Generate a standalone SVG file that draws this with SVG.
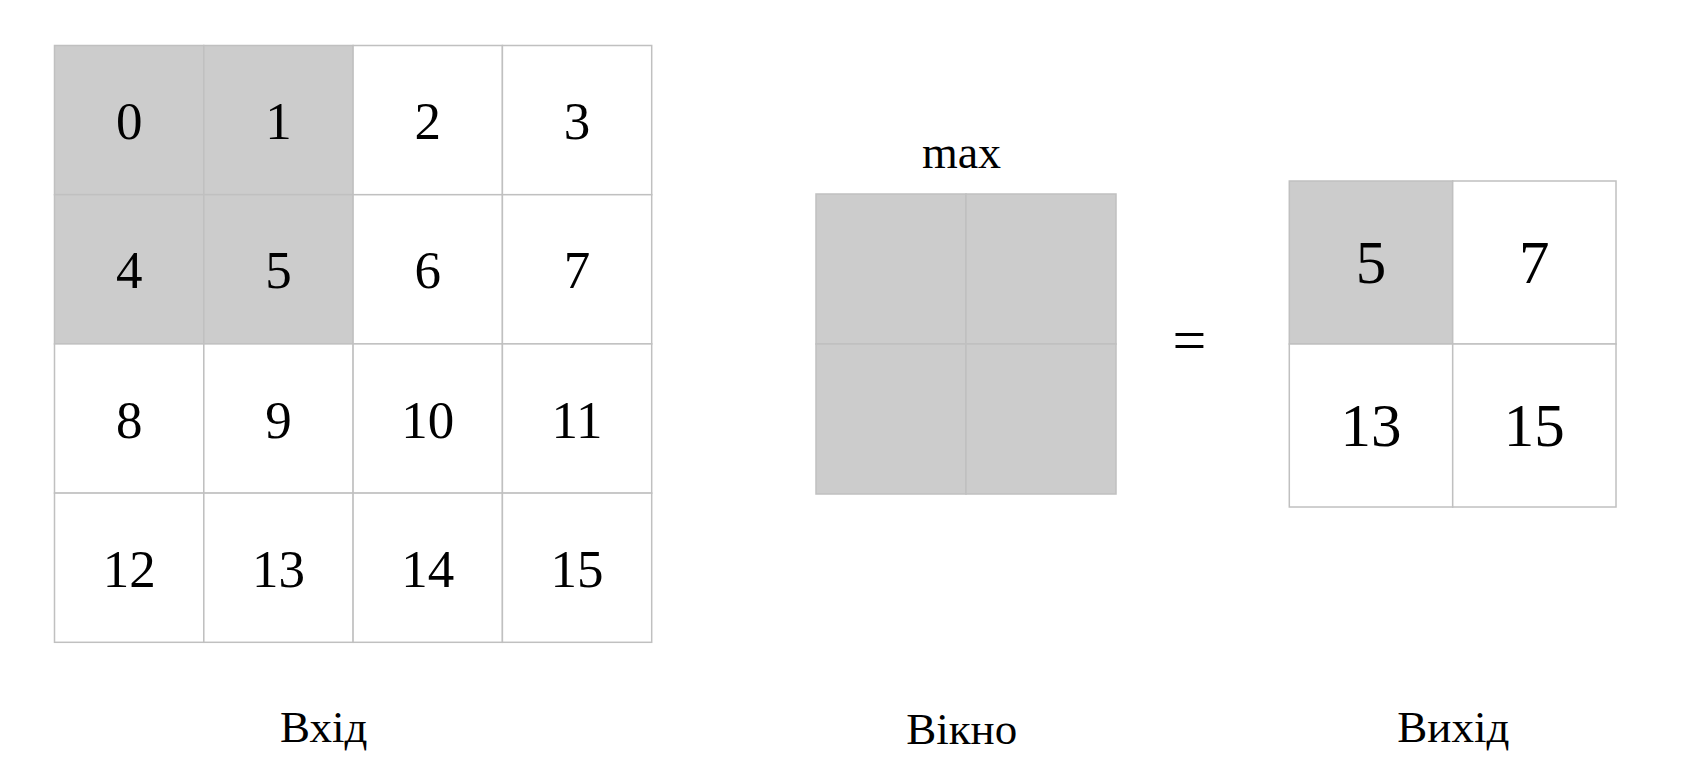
<svg xmlns="http://www.w3.org/2000/svg" width="1684" height="781" viewBox="0 0 1684 781">
<style>
  .bg { fill: #ffffff; }
  .cell { fill: #ffffff; stroke: #c0c0c0; stroke-width: 1.5; }
  .hl { fill: #cccccc; stroke: #c0c0c0; stroke-width: 1.5; }
  .num { font-family: "Liberation Serif", "DejaVu Serif", serif; font-size: 53px; fill: #000; text-anchor: middle; }
  .numL { font-family: "Liberation Serif", "DejaVu Serif", serif; font-size: 61px; fill: #000; text-anchor: middle; }
  .lbl { font-family: "Liberation Serif", "DejaVu Serif", serif; font-size: 45px; fill: #000; text-anchor: middle; }
</style>
<rect class="bg" x="0" y="0" width="1684" height="781"/>

<g id="input">
  <rect class="hl" x="54.5" y="45.5" width="149.3" height="149.2"/>
  <rect class="hl" x="203.8" y="45.5" width="149.3" height="149.2"/>
  <rect class="cell" x="353.1" y="45.5" width="149.3" height="149.2"/>
  <rect class="cell" x="502.4" y="45.5" width="149.3" height="149.2"/>
  <rect class="hl" x="54.5" y="194.7" width="149.3" height="149.2"/>
  <rect class="hl" x="203.8" y="194.7" width="149.3" height="149.2"/>
  <rect class="cell" x="353.1" y="194.7" width="149.3" height="149.2"/>
  <rect class="cell" x="502.4" y="194.7" width="149.3" height="149.2"/>
  <rect class="cell" x="54.5" y="343.9" width="149.3" height="149.2"/>
  <rect class="cell" x="203.8" y="343.9" width="149.3" height="149.2"/>
  <rect class="cell" x="353.1" y="343.9" width="149.3" height="149.2"/>
  <rect class="cell" x="502.4" y="343.9" width="149.3" height="149.2"/>
  <rect class="cell" x="54.5" y="493.1" width="149.3" height="149.2"/>
  <rect class="cell" x="203.8" y="493.1" width="149.3" height="149.2"/>
  <rect class="cell" x="353.1" y="493.1" width="149.3" height="149.2"/>
  <rect class="cell" x="502.4" y="493.1" width="149.3" height="149.2"/>
  <text class="num" x="129.2" y="139.1">0</text>
  <text class="num" x="278.5" y="139.1">1</text>
  <text class="num" x="427.8" y="139.1">2</text>
  <text class="num" x="577.1" y="139.1">3</text>
  <text class="num" x="129.2" y="288.3">4</text>
  <text class="num" x="278.5" y="288.3">5</text>
  <text class="num" x="427.8" y="288.3">6</text>
  <text class="num" x="577.1" y="288.3">7</text>
  <text class="num" x="129.2" y="437.5">8</text>
  <text class="num" x="278.5" y="437.5">9</text>
  <text class="num" x="427.8" y="437.5">10</text>
  <text class="num" x="577.1" y="437.5">11</text>
  <text class="num" x="129.2" y="586.7">12</text>
  <text class="num" x="278.5" y="586.7">13</text>
  <text class="num" x="427.8" y="586.7">14</text>
  <text class="num" x="577.1" y="586.7">15</text>
</g>

<g id="window">
  <text class="lbl" x="961.5" y="168.3" style="font-size:46px">max</text>
  <rect class="hl" x="816" y="194" width="150" height="150"/>
  <rect class="hl" x="966" y="194" width="150" height="150"/>
  <rect class="hl" x="816" y="344" width="150" height="150"/>
  <rect class="hl" x="966" y="344" width="150" height="150"/>
</g>

<g id="equals">
  <text class="lbl" x="1189.3" y="360" style="font-size:60px">=</text>
</g>

<g id="output">
  <rect class="hl" x="1289.3" y="181" width="163.4" height="163"/>
  <rect class="cell" x="1452.7" y="181" width="163.3" height="163"/>
  <rect class="cell" x="1289.3" y="344" width="163.4" height="163"/>
  <rect class="cell" x="1452.7" y="344" width="163.3" height="163"/>
  <text class="numL" x="1371" y="283">5</text>
  <text class="numL" x="1534.3" y="283">7</text>
  <text class="numL" x="1371" y="446">13</text>
  <text class="numL" x="1534.3" y="446">15</text>
</g>

<g id="labels">
  <text class="lbl" x="323.7" y="741.7">Вхід</text>
  <text class="lbl" x="961.7" y="744.3">Вікно</text>
  <text class="lbl" x="1453.3" y="741.7">Вихід</text>
</g>
</svg>
